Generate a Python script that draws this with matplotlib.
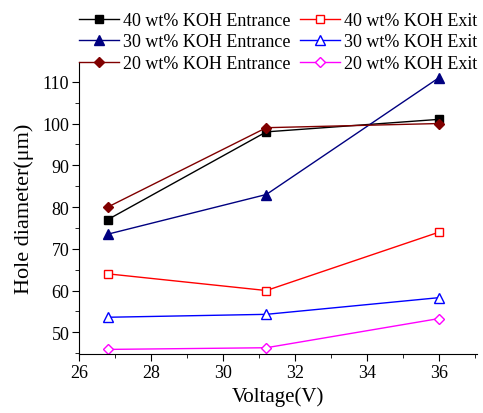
import matplotlib.pyplot as plt
from matplotlib.ticker import MultipleLocator

plt.rcParams['font.family'] = ['Liberation Serif', 'DejaVu Serif']

voltage = [26.8, 31.2, 36.0]
koh40_in = [77.0, 98.0, 101.0]
koh40_out = [64.0, 60.0, 74.0]
koh30_in = [73.5, 83.0, 111.0]
koh30_out = [53.6, 54.3, 58.3]
koh20_in = [80.0, 99.0, 100.0]
koh20_out = [45.9, 46.3, 53.3]

fig = plt.figure(figsize=(4.83, 4.14), dpi=100)
ax = fig.add_axes([0.1636, 0.1425, 0.824, 0.706])

lw = 1.0
h40i, = ax.plot(voltage, koh40_in, '-s', color='black', lw=lw, ms=5.5, label='40 wt% KOH Entrance')
h40o, = ax.plot(voltage, koh40_out, '-s', color='#ff0000', mfc='white', mec='#ff0000', lw=lw, ms=5.5, label='40 wt% KOH Exit')
h30i, = ax.plot(voltage, koh30_in, '-^', color='#000080', lw=lw, ms=7, label='30 wt% KOH Entrance')
h30o, = ax.plot(voltage, koh30_out, '-^', color='#0000ff', mfc='white', mec='#0000ff', lw=lw, ms=7, label='30 wt% KOH Exit')
h20i, = ax.plot(voltage, koh20_in, '-D', color='#800000', lw=lw, ms=5.5, label='20 wt% KOH Entrance')
h20o, = ax.plot(voltage, koh20_out, '-D', color='#ff00ff', mfc='white', mec='#ff00ff', lw=lw, ms=5.5, label='20 wt% KOH Exit')

ax.set_xlim(26, 37.05)
ax.set_ylim(44.8, 114.8)
ax.xaxis.set_major_locator(MultipleLocator(2))
ax.xaxis.set_minor_locator(MultipleLocator(1))
ax.yaxis.set_major_locator(MultipleLocator(10))
ax.yaxis.set_minor_locator(MultipleLocator(5))
ax.tick_params(which='both', direction='out', labelsize=13, pad=2)
ax.tick_params(which='major', length=5)
ax.tick_params(which='minor', length=3)
ax.spines['top'].set_visible(False)
ax.spines['right'].set_visible(False)

ax.set_xlabel('Voltage(V)', fontsize=15, labelpad=4)
ax.set_ylabel('Hole diameter(\u03bcm)', fontsize=16, labelpad=6)

handles = [h40i, h30i, h20i, h40o, h30o, h20o]
ax.legend(handles=handles, labels=[h.get_label() for h in handles],
          loc='lower left', bbox_to_anchor=(0.0, 0.965), ncol=2, frameon=False,
          fontsize=13, handlelength=2.2, columnspacing=0.5, handletextpad=0.25,
          labelspacing=0.25, borderaxespad=0, borderpad=0)

fig.savefig('out.png', dpi=100)
